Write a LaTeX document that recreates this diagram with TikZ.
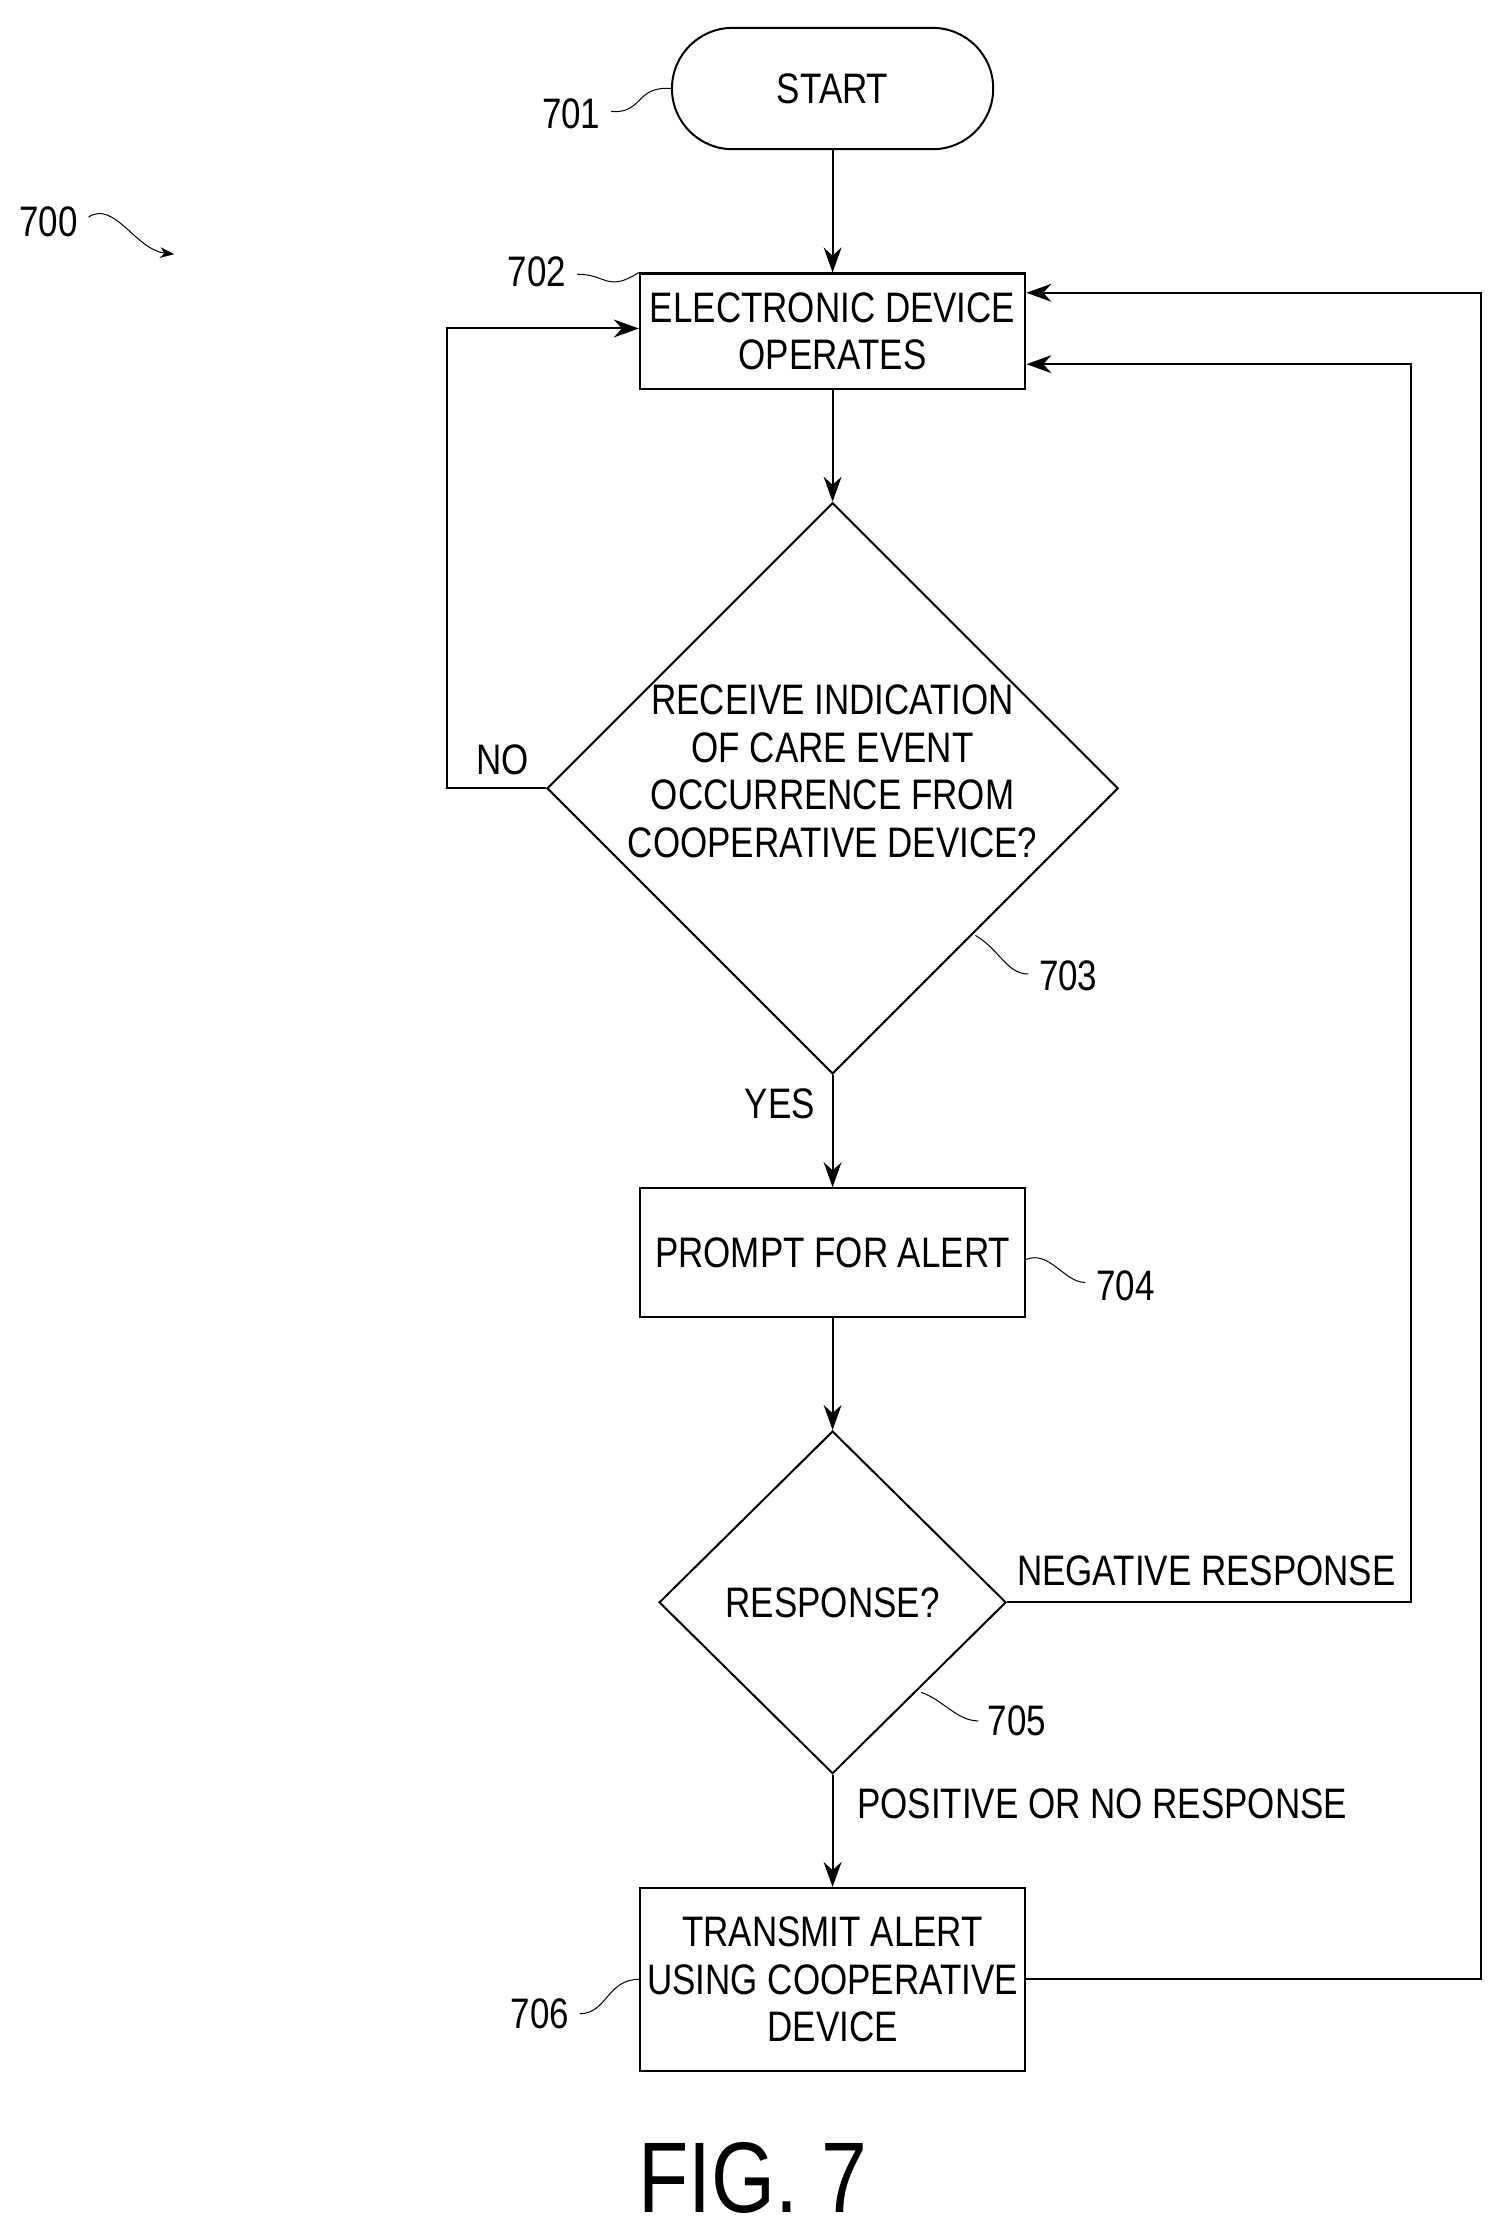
\documentclass[tikz,border=0pt]{standalone}
\usepackage{fontspec}
\setmainfont[FakeStretch=0.82]{Liberation Sans}
\usetikzlibrary{shapes.geometric,arrows.meta}

\tikzset{
    process/.style={draw, thick, minimum width=5.4cm, align=center, inner sep=2pt},
    test/.style={draw, thick, diamond, aspect=1, inner sep=0pt},
    flow/.style={thick, -{Stealth[length=3.5mm,width=2.5mm]}},
    lbl/.style={font=\fontsize{17}{19}\selectfont},
    refnum/.style={font=\fontsize{17}{19}\selectfont},
    lead/.style={thin},
}

\begin{document}
\begin{tikzpicture}[x=0.02cm, y=-0.02cm, font=\fontsize{17}{19}\selectfont]
    \useasboundingbox (0,0) rectangle (1050,1565);
    % boxes
    \node[process, rounded corners=0.85cm, minimum width=4.5cm, minimum height=1.7cm] (start) at (583,62) {START};
    \node[process, minimum height=1.62cm] (operate) at (583,232) {ELECTRONIC DEVICE\\OPERATES};
    \node[test, minimum width=8cm, minimum height=8cm] (care) at (583,552) {};
    \node[align=center] (caretxt) at (583,540) {RECEIVE INDICATION\\OF CARE EVENT\\OCCURRENCE FROM\\COOPERATIVE DEVICE?};
    \node[process, minimum height=1.8cm] (prompt) at (583,877) {PROMPT FOR ALERT};
    \node[test, minimum width=4.86cm, minimum height=4.8cm] (resp) at (583,1122) {};
    \node (resptxt) at (583,1122) {RESPONSE?};
    \node[process, minimum height=2.56cm] (transmit) at (583,1386) {TRANSMIT ALERT\\USING COOPERATIVE\\DEVICE};
    % connectors
    \draw[flow] (start) -- (operate);
    \draw[flow] (operate) -- (care);
    \draw[flow] (care) -- (prompt);
    \draw[flow] (prompt) -- (resp);
    \draw[flow] (resp) -- (transmit);
    \draw[flow] (care.west) -- (313,552) -- (313,230) -- (operate.west |- 0,230);
    \draw[flow] (resp.east) -- (988,1122) -- (988,255) -- (operate.east |- 0,255);
    \draw[flow] (transmit.east) -- (1037,1386) -- (1037,205) -- (operate.east |- 0,205);
    % branch labels
    \node[lbl] (no) at (352,532) {NO};
    \node[lbl] (yes) at (546,773) {YES};
    \node[lbl, anchor=west] (neg) at (706,1100) {NEGATIVE RESPONSE};
    \node[lbl, anchor=west] (pos) at (594,1263) {POSITIVE OR NO RESPONSE};
    % reference numerals
    \node[refnum] (n700) at (34,155) {700};
    \draw[lead, -{Stealth[length=2mm]}] (62,152) .. controls (80,140) and (95,175) .. (122,178);
    \node[refnum] (n701) at (400,80) {701};
    \draw[lead] (428,78) .. controls (450,80) and (445,60) .. (start.west);
    \node[refnum] (n702) at (376,190) {702};
    \draw[lead] (404,192) .. controls (425,192) and (425,205) .. (operate.north west);
    \node[refnum] (n703) at (748,683) {703};
    \draw[lead] (683,655) .. controls (700,665) and (705,682) .. (720,682);
    \node[refnum] (n704) at (788,900) {704};
    \draw[lead] (718,882) .. controls (735,875) and (745,898) .. (760,898);
    \node[refnum] (n705) at (712,1205) {705};
    \draw[lead] (645,1185) .. controls (660,1190) and (670,1205) .. (685,1205);
    \node[refnum] (n706) at (378,1410) {706};
    \draw[lead] (406,1410) .. controls (425,1410) and (425,1386) .. (transmit.west);
    % figure label
    \node[font=\fontsize{40}{44}\selectfont] (fig) at (527,1525) {FIG. 7};
\end{tikzpicture}
\end{document}
